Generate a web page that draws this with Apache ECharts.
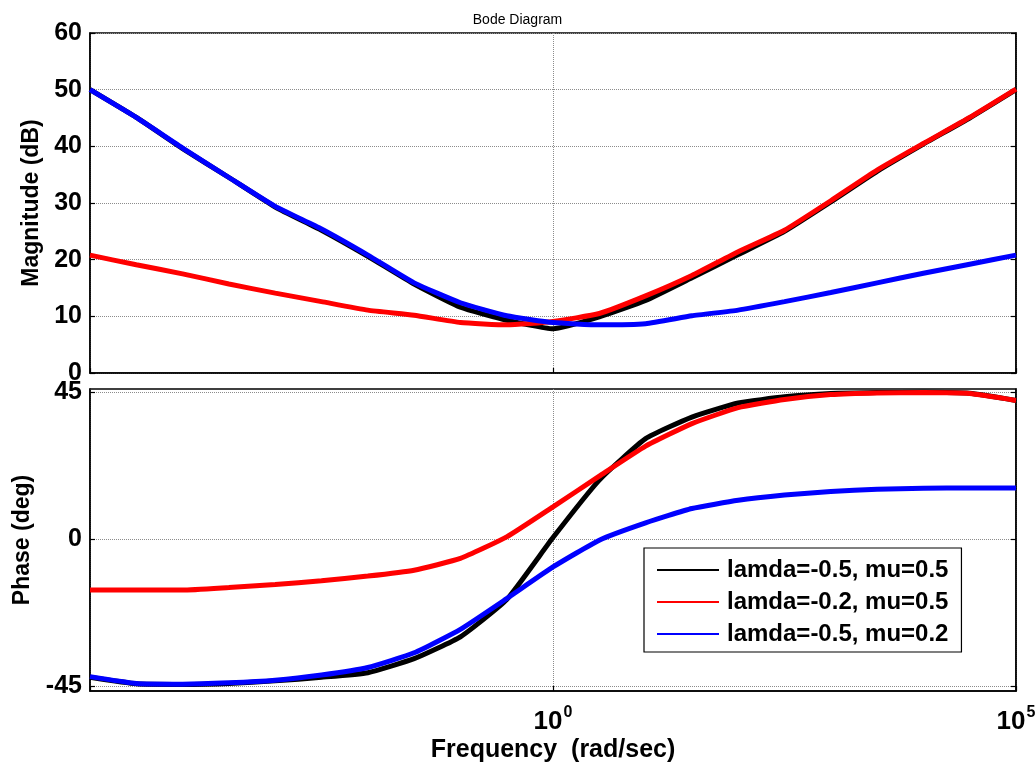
<!DOCTYPE html>
<html lang="en">
<head>
    <meta charset="UTF-8">
    <title>Bode Diagram</title>
    <script src="https://cdn.jsdelivr.net/npm/echarts@6.0.0/dist/echarts.min.js"></script>
    <style>
        html, body { margin: 0; padding: 0; background: #fff; }
        #main { width: 1035px; height: 765px; }
    </style>
</head>
<body>
    <div id="main"></div>

<script type="text/javascript">
    // frequency as log10(rad/sec)
    var logW = [-5, -4.5, -4, -3.5, -3, -2.5, -2, -1.5, -1, -0.5, 0, 0.5, 1, 1.5, 2, 2.5, 3, 3.5, 4, 4.5, 5]

    var seriesNames = ['lamda=-0.5, mu=0.5', 'lamda=-0.2, mu=0.5', 'lamda=-0.5, mu=0.2']
    var seriesColors = ['#000000', '#ff0000', '#0000ff']

    // magnitude (dB)
    var magBlack = [50, 45.1, 39.6, 34.5, 29.3, 25.2, 20.6, 15.7, 11.6, 9.3, 7.8, 9.9, 12.8, 16.8, 20.9, 25.0, 30.2, 35.6, 40.4, 45.0, 50]
    var magRed = [20.8, 19.1, 17.5, 15.7, 14.1, 12.6, 11.1, 10.2, 8.9, 8.5, 9.1, 10.5, 13.6, 17.2, 21.4, 25.2, 30.4, 35.8, 40.5, 45.1, 50.1]
    var magBlue = [50, 45.1, 39.7, 34.5, 29.4, 25.4, 20.8, 15.9, 12.4, 10.1, 8.9, 8.5, 8.7, 10.1, 11.1, 12.6, 14.2, 15.9, 17.6, 19.2, 20.8]

    // phase (deg)
    var phBlack = [-42.3, -44.3, -44.5, -44.2, -43.4, -42.3, -40.9, -36.6, -29.9, -18.5, 0.5, 18.1, 30.8, 37.4, 41.7, 43.6, 44.6, 44.9, 45.0, 44.7, 42.5]
    var phRed = [-15.6, -15.6, -15.6, -14.8, -13.9, -12.7, -11.3, -9.5, -5.9, 0.7, 9.9, 19.3, 28.5, 35.4, 40.3, 42.8, 44.3, 44.8, 44.9, 44.6, 42.5]
    var phBlue = [-42.1, -44.2, -44.4, -44.0, -43.2, -41.6, -39.3, -34.8, -27.6, -18.2, -8.5, -0.3, 5.0, 9.4, 11.9, 13.5, 14.6, 15.3, 15.6, 15.7, 15.7]

    var phaseTicks = [-45, 0, 45]

    function pairs (ys) {
        return logW.map(function (w, i) { return [w, ys[i]] })
    }

    var fontFam = 'Liberation Sans, Arial, sans-serif'
    var gridLine = { show: true, lineStyle: { color: '#8c8c8c', type: 'dotted', width: 1 } }
    var blackLine = { show: true, onZero: false, lineStyle: { color: '#000', width: 1.5 } }
    var tickIn = { show: true, inside: true, length: 5, lineStyle: { color: '#000', width: 1.2 } }
    var phaseTick = { show: true, inside: true, length: 5, lineStyle: { color: '#000', width: 1.2 }, customValues: phaseTicks }

    var chartDom = document.getElementById('main')
    var myChart = echarts.init(chartDom, null, { renderer: 'canvas' })

    function makeLine (name, color, data, xi, yi, z) {
        return {
            name: name,
            type: 'line',
            xAxisIndex: xi,
            yAxisIndex: yi,
            data: data,
            showSymbol: false,
            symbol: 'none',
            smooth: 0.15,
            z: z,
            lineStyle: { color: color, width: 5 },
            itemStyle: { color: color },
            animation: false
        }
    }

    var option = {
        animation: false,
        backgroundColor: '#fff',
        title: {
            text: 'Bode Diagram',
            left: 'center',
            top: 8,
            textStyle: { fontFamily: fontFam, fontSize: 14, fontWeight: 'normal', color: '#000' }
        },
        legend: {
            show: true,
            orient: 'vertical',
            left: 644,
            top: 548,
            padding: [10, 13, 6, 13],
            itemGap: 8,
            itemWidth: 62,
            itemHeight: 2,
            icon: 'rect',
            backgroundColor: '#fff',
            borderColor: '#000',
            borderWidth: 1.2,
            textStyle: { fontFamily: fontFam, fontSize: 24, fontWeight: 'bold', color: '#000', padding: [0, 0, 0, 3] },
            data: seriesNames
        },
        grid: [
            { left: 90, right: 19, top: 33, height: 340, show: true, borderColor: '#000', borderWidth: 1.5, backgroundColor: 'transparent', containLabel: false, outerBoundsMode: 'none' },
            { left: 90, right: 19, top: 389, height: 302, show: true, borderColor: '#000', borderWidth: 1.5, backgroundColor: 'transparent', containLabel: false, outerBoundsMode: 'none' }
        ],
        xAxis: [
            {
                type: 'value', gridIndex: 0, min: -5, max: 5, interval: 5,
                axisLine: blackLine, axisTick: tickIn, axisLabel: { show: false },
                splitLine: gridLine
            },
            {
                type: 'value', gridIndex: 1, min: -5, max: 5, interval: 5,
                axisLine: blackLine, axisTick: tickIn,
                axisLabel: {
                    show: true, margin: 14, color: '#000',
                    formatter: function (v) {
                        if (v === -5) return ''
                        return '{b|10}{s|' + v + '}'
                    },
                    rich: {
                        b: { fontFamily: fontFam, fontSize: 26, fontWeight: 'bold', color: '#000', verticalAlign: 'bottom', lineHeight: 30 },
                        s: { fontFamily: fontFam, fontSize: 16, fontWeight: 'bold', color: '#000', verticalAlign: 'top', lineHeight: 30, padding: [0, 0, 14, 1] }
                    }
                },
                splitLine: gridLine,
                name: 'Frequency  (rad/sec)',
                nameLocation: 'middle',
                nameGap: 47,
                nameTextStyle: { fontFamily: fontFam, fontSize: 25, fontWeight: 'bold', color: '#000' }
            }
        ],
        yAxis: [
            {
                type: 'value', gridIndex: 0, min: 0, max: 60, interval: 10,
                axisLine: blackLine, axisTick: tickIn,
                axisLabel: { margin: 8, fontFamily: fontFam, fontSize: 25, fontWeight: 'bold', color: '#000' },
                splitLine: gridLine,
                name: 'Magnitude (dB)',
                nameLocation: 'middle',
                nameGap: 47,
                nameRotate: 90,
                nameTextStyle: { fontFamily: fontFam, fontSize: 23, fontWeight: 'bold', color: '#000' }
            },
            {
                type: 'value', gridIndex: 1, min: -46.5, max: 46,
                axisLine: blackLine,
                axisTick: phaseTick,
                axisLabel: { margin: 8, fontFamily: fontFam, fontSize: 25, fontWeight: 'bold', color: '#000', customValues: phaseTicks },
                splitLine: gridLine,
                name: 'Phase (deg)',
                nameLocation: 'middle',
                nameGap: 56,
                nameRotate: 90,
                nameTextStyle: { fontFamily: fontFam, fontSize: 23, fontWeight: 'bold', color: '#000' }
            },
            {
                type: 'value', gridIndex: 0, position: 'right', min: 0, max: 60, interval: 10,
                axisLine: blackLine, axisTick: tickIn, axisLabel: { show: false }, splitLine: { show: false }
            },
            {
                type: 'value', gridIndex: 1, position: 'right', min: -46.5, max: 46,
                axisLine: blackLine, axisTick: phaseTick,
                axisLabel: { show: false }, splitLine: { show: false }
            }
        ],
        series: [
            makeLine(seriesNames[0], seriesColors[0], pairs(magBlack), 0, 0, 2),
            makeLine(seriesNames[1], seriesColors[1], pairs(magRed), 0, 0, 3),
            makeLine(seriesNames[2], seriesColors[2], pairs(magBlue), 0, 0, 4),
            makeLine(seriesNames[0], seriesColors[0], pairs(phBlack), 1, 1, 2),
            makeLine(seriesNames[1], seriesColors[1], pairs(phRed), 1, 1, 3),
            makeLine(seriesNames[2], seriesColors[2], pairs(phBlue), 1, 1, 4)
        ]
    }

    option && myChart.setOption(option)
</script>
</body>
</html>
